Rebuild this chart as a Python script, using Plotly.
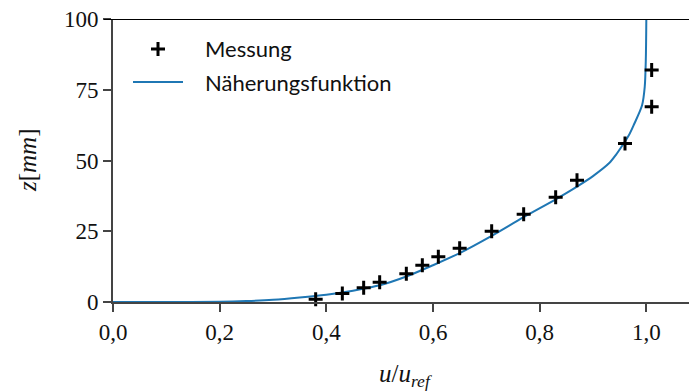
import plotly.graph_objects as go

# Measured velocity profile
u_mess = [0.38, 0.43, 0.47, 0.50, 0.55, 0.58, 0.61, 0.65, 0.71, 0.77, 0.83, 0.87, 0.96, 1.01, 1.01]
z_mess = [1, 3, 5, 7, 10, 13, 16, 19, 25, 31, 37, 43, 56, 69, 82]

# Approximation curve (sampled points)
u_fit = [0.0, 0.10, 0.20, 0.25, 0.30, 0.35, 0.40, 0.45, 0.50, 0.55, 0.60, 0.65, 0.71,
         0.77, 0.83, 0.87, 0.90, 0.93, 0.943, 0.955, 0.968, 0.977, 0.992, 0.997, 0.999, 1.0]
z_fit = [0.0, 0.02, 0.1, 0.35, 0.8, 1.6, 2.6, 4.0, 5.9, 9.0, 13.0, 17.3, 23.4,
         30.0, 36.3, 40.8, 44.5, 49.0, 52.0, 55.3, 59.2, 62.8, 69.5, 76.0, 85.5, 100.0]

x_ticks = [0.0, 0.2, 0.4, 0.6, 0.8, 1.0]
y_ticks = [0, 25, 50, 75, 100]

BLUE = "#1f77b4"
SERIF = "Liberation Serif"
SANS = "Lato"

fig = go.Figure()

fig.add_trace(go.Scatter(
    x=u_fit, y=z_fit, mode="lines",
    line=dict(color=BLUE, width=2, shape="spline", smoothing=0.8),
    showlegend=False, cliponaxis=True,
))
fig.add_trace(go.Scatter(
    x=u_mess, y=z_mess, mode="markers",
    marker=dict(symbol="cross-thin", size=10, line=dict(color="black", width=3)),
    showlegend=False, cliponaxis=False,
))

# Legend entries drawn on an overlay axis spanning the plot area
fig.add_trace(go.Scatter(
    x=[158], y=[49], mode="markers", xaxis="x2", yaxis="y2",
    marker=dict(symbol="cross-thin", size=10, line=dict(color="black", width=3)),
    showlegend=False, hoverinfo="skip",
))
fig.add_trace(go.Scatter(
    x=[133, 183], y=[82, 82], mode="lines", xaxis="x2", yaxis="y2",
    line=dict(color=BLUE, width=2), showlegend=False, hoverinfo="skip",
))

axis_line = dict(showline=True, linecolor="#444", linewidth=2, ticks="outside",
                 ticklen=8, tickwidth=1.5, tickcolor="#444", showgrid=False,
                 zeroline=False, tickfont=dict(family=SERIF, size=23, color="#111"))

fig.update_layout(
    width=689, height=391,
    margin=dict(l=113, r=0, t=19, b=89),
    paper_bgcolor="white", plot_bgcolor="white",
    separators=",.",
    xaxis=dict(range=[0, 1.08], tickvals=x_ticks, tickformat=".1f", **axis_line),
    yaxis=dict(range=[0, 100], tickvals=y_ticks, **axis_line),
    xaxis2=dict(range=[113, 689], overlaying="x", visible=False, fixedrange=True),
    yaxis2=dict(range=[302, 19], overlaying="y", visible=False, fixedrange=True),
    shapes=[dict(type="line", xref="paper", yref="y", x0=-9 / 576, x1=1, y0=100, y1=100,
                 line=dict(color="black", width=2))],
    annotations=[
        dict(text="Messung", xref="paper", yref="paper", x=(203 - 113) / 576,
             y=(302 - 49) / 283, xanchor="left", yanchor="middle", showarrow=False,
             font=dict(family=SANS, size=22, color="#111")),
        dict(text="Näherungsfunktion", xref="paper", yref="paper", x=(203 - 113) / 576,
             y=(302 - 82) / 283, xanchor="left", yanchor="middle", showarrow=False,
             font=dict(family=SANS, size=22, color="#111")),
        dict(text="<i>z</i>[<i>mm</i>]", xref="paper", yref="paper", x=(27 - 113) / 576,
             y=(302 - 160) / 283, xanchor="center", yanchor="middle", textangle=-90,
             showarrow=False, font=dict(family=SERIF, size=25, color="#111")),
        dict(text="<i>u</i>/<i>u</i><sub><i>ref</i></sub>", xref="paper", yref="paper",
             x=(405 - 113) / 576, y=(302 - 375) / 283, xanchor="center", yanchor="middle",
             showarrow=False, font=dict(family=SERIF, size=25, color="#111")),
    ],
)

fig.write_html("out.html")
